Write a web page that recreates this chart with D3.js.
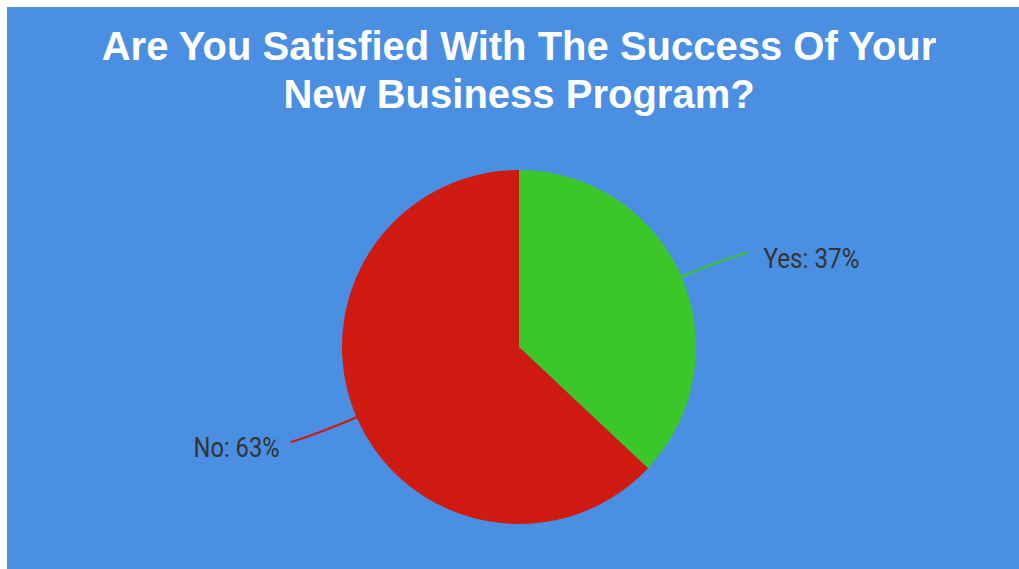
<!DOCTYPE html>
<html>
<head>
<meta charset="utf-8">
<script src="https://cdn.jsdelivr.net/npm/d3@7"></script>
<style>
  html, body { margin: 0; padding: 0; background: #ffffff; }
  svg { display: block; }
</style>
</head>
<body>
<svg id="chart" width="1019" height="569"></svg>
<script>
// Survey answers
const categories = ["Yes", "No"];
const values = [37, 63];
const sliceColors = ["#3bc62a", "#cf1a11"];
const titleLines = ["Are You Satisfied With The Success Of Your", "New Business Program?"];

const width = 1019, height = 569;
const svg = d3.select("#chart");

// panel background
svg.append("rect")
  .attr("x", 7).attr("y", 7)
  .attr("width", width - 7).attr("height", height - 7)
  .attr("fill", "#4a8fe1");

// title
svg.append("text")
  .attr("text-anchor", "middle")
  .attr("font-family", "'Liberation Sans', Arial, sans-serif")
  .attr("font-weight", "bold")
  .attr("font-size", 40)
  .attr("fill", "#ffffff")
  .selectAll("tspan")
  .data(titleLines)
  .join("tspan")
  .attr("x", 519)
  .attr("y", (d, i) => 60 + i * 48)
  .text(d => d);

const cx = 519, cy = 347, r = 177;
const data = categories.map((c, i) => ({ label: c, value: values[i], color: sliceColors[i] }));

const pie = d3.pie().value(d => d.value).sort(null);
const arcs = pie(data);
const arc = d3.arc().innerRadius(0).outerRadius(r);

const g = svg.append("g").attr("transform", `translate(${cx},${cy})`);

g.selectAll("path.slice")
  .data(arcs)
  .join("path")
  .attr("class", "slice")
  .attr("d", arc)
  .attr("fill", d => d.data.color);

// leader lines and labels
const total = d3.sum(values);
arcs.forEach(a => {
  const mid = (a.startAngle + a.endAngle) / 2;
  const sx = Math.sin(mid), sy = -Math.cos(mid);
  const right = sx >= 0;
  const p0 = [sx * (r - 2), sy * (r - 2)];
  const end = [sx * r + (right ? 66 : -66), sy * r + (right ? -24 : 25)];
  const path = d3.path();
  path.moveTo(p0[0], p0[1]);
  path.quadraticCurveTo(sx * (r + 40), sy * (r + 40), end[0], end[1]);
  g.append("path")
    .attr("d", path.toString())
    .attr("fill", "none")
    .attr("stroke", a.data.color)
    .attr("stroke-width", 2);

  const txt = `${a.data.label}: ${Math.round(a.data.value / total * 100)}%`;
  g.append("text")
    .attr("x", end[0] + (right ? 16 : -11))
    .attr("y", end[1] + 15)
    .attr("text-anchor", right ? "start" : "end")
    .attr("font-family", "Roboto, sans-serif")
    .attr("font-size", 28)
    .attr("fill", "#333333")
    .attr("textLength", right ? 96 : 86)
    .attr("lengthAdjust", "spacingAndGlyphs")
    .text(txt);
});
</script>
</body>
</html>
